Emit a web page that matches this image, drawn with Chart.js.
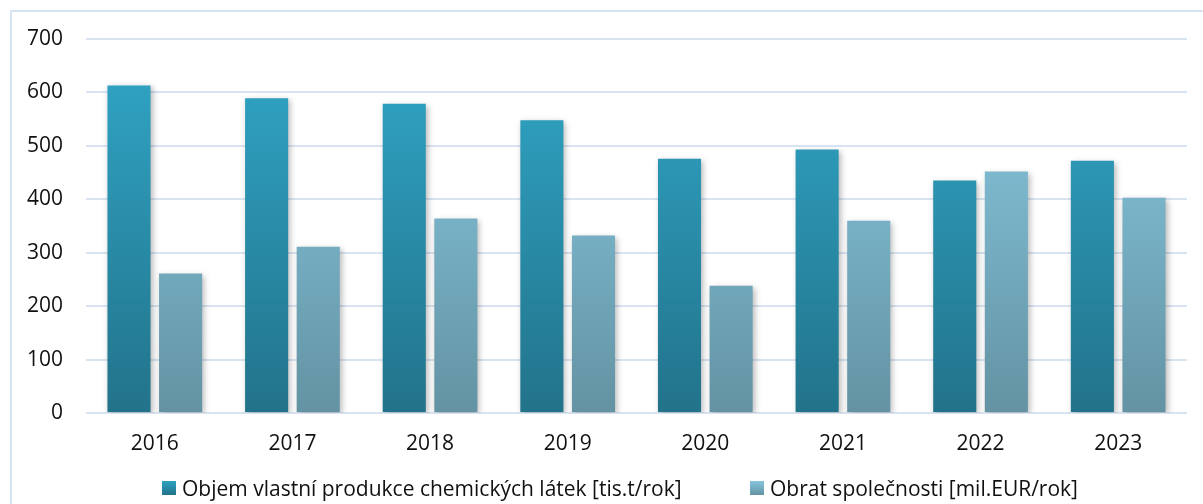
<!DOCTYPE html>
<html>
<head>
<meta charset="utf-8">
<script src="https://cdn.jsdelivr.net/npm/chart.js@4"></script>
<style>
  body { margin: 0; background: #fff; font-family: "Open Sans", sans-serif; }
  #frame { position: absolute; left: 10px; top: 10px; width: 1300px; height: 600px; border: 2px solid #d6e3f3; }
  #wrap { position: absolute; left: 0; top: 0; width: 1203px; height: 504px; }
  .leg { position: absolute; top: 474px; display: flex; align-items: center; font-size: 21px; color: #111; white-space: nowrap; }
  .leg i { display: inline-block; width: 14px; height: 14px; margin-right: 6px; }
</style>
</head>
<body>
<div id="frame"></div>
<div id="wrap"><canvas id="c"></canvas></div>
<div id="leg0" class="leg" style="left:162px"><i></i><span></span></div>
<div id="leg1" class="leg" style="left:750px"><i></i><span></span></div>
<script>
// ── Data ────────────────────────────────────────────────────────────────
const years = ["2016", "2017", "2018", "2019", "2020", "2021", "2022", "2023"];
const production = [613, 589, 579, 548, 476, 493, 435, 472];
const turnover = [261, 311, 364, 332, 238, 360, 452, 403];
const yTicks = [0, 100, 200, 300, 400, 500, 600, 700];
const seriesNames = [
  "Objem vlastní produkce chemických látek [tis.t/rok]",
  "Obrat společnosti [mil.EUR/rok]",
];
const gradStops = [
  ["#2fa1c1", "#22738a"],
  ["#86c5dd", "#6393a3"],
];

const FONT = "'Open Sans', sans-serif";

function grad(top, bottom) {
  return (ctx) => {
    const area = ctx.chart.chartArea;
    if (!area) return top;
    const g = ctx.chart.ctx.createLinearGradient(0, area.top + 45, 0, area.bottom);
    g.addColorStop(0, top);
    g.addColorStop(1, bottom);
    return g;
  };
}

// soft drop shadow under bars
const shadowPlugin = {
  id: "barShadow",
  beforeDatasetDraw(chart) {
    const c = chart.ctx;
    c.save();
    c.shadowColor = "rgba(0,0,0,0.28)";
    c.shadowBlur = 6;
    c.shadowOffsetX = 2;
    c.shadowOffsetY = 2;
  },
  afterDatasetDraw(chart) {
    chart.ctx.restore();
  },
};

new Chart(document.getElementById("c"), {
  type: "bar",
  data: {
    labels: years,
    datasets: seriesNames.map((name, i) => ({
      label: name,
      data: i === 0 ? production : turnover,
      backgroundColor: grad(gradStops[i][0], gradStops[i][1]),
    })),
  },
  options: {
    responsive: true,
    maintainAspectRatio: false,
    animation: false,
    categoryPercentage: 0.75,
    barPercentage: 0.835,
    layout: { padding: { top: 39, right: 16, left: 0, bottom: 41 } },
    scales: {
      x: {
        afterFit: (s) => { s.height = 50; },
        grid: { display: false },
        border: { display: false },
        ticks: { color: "#111", font: { family: FONT, size: 21 }, padding: 10 },
      },
      y: {
        min: 0,
        max: 700,
        afterBuildTicks: (s) => { s.ticks = yTicks.map((v) => ({ value: v })); },
        afterFit: (s) => { s.width = 86; },
        grid: { color: "#d9e4f2", lineWidth: 2, drawTicks: false },
        border: { display: false },
        ticks: { color: "#111", font: { family: FONT, size: 21 }, padding: 23 },
      },
    },
    plugins: {
      tooltip: { enabled: false },
      legend: { display: false },
    },
  },
  plugins: [shadowPlugin],
});

// HTML legend
seriesNames.forEach((name, i) => {
  const el = document.getElementById("leg" + i);
  el.querySelector("span").textContent = name;
  el.querySelector("i").style.background =
    `linear-gradient(${gradStops[i][0]}, ${gradStops[i][1]})`;
});
</script>
</body>
</html>
